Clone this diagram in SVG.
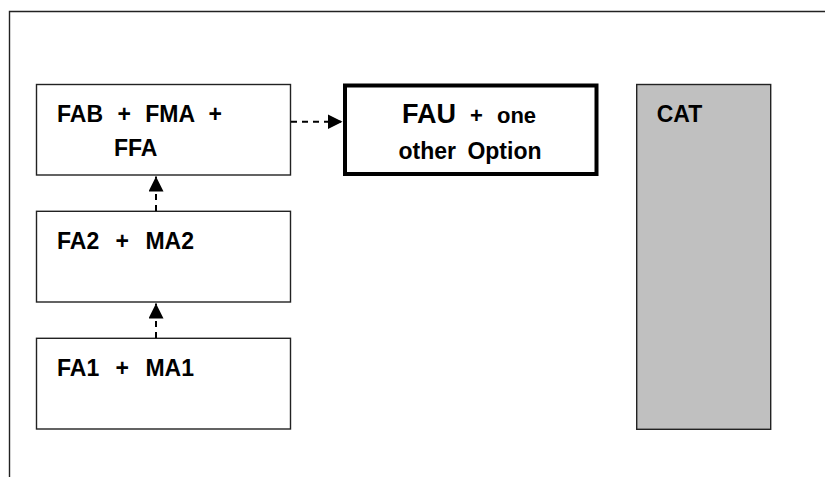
<svg xmlns="http://www.w3.org/2000/svg" width="825" height="477" viewBox="0 0 825 477">
  <defs>
    <style>
      .box { fill: #ffffff; stroke: #222222; stroke-width: 1.4; }
      .thick { fill: #ffffff; stroke: #000000; stroke-width: 4; }
      .gray { fill: #c0c0c0; stroke: #222222; stroke-width: 1.4; }
      .lbl { font-family: "Liberation Sans", Arial, sans-serif; font-weight: bold; font-size: 23px; fill: #000000; word-spacing: 8px; }
      .conn { stroke: #000000; stroke-width: 2; stroke-dasharray: 6 5; fill: none; }
    </style>
    <marker id="arrow" viewBox="0 0 15 15" refX="15" refY="7.5" markerWidth="15" markerHeight="15" markerUnits="userSpaceOnUse" orient="auto">
      <path d="M0,0 L15,7.5 L0,15 Z" fill="#000000"/>
    </marker>
  </defs>

  <g id="frame">
    <path d="M9.5,477 L9.5,11.5 L825,11.5" fill="none" stroke="#222222" stroke-width="1.4"/>
  </g>

  <g id="node-fab">
    <rect class="box" x="36.5" y="84.5" width="254" height="90.5"/>
    <text class="lbl" x="57" y="121.7">FAB + FMA +</text>
    <text class="lbl" x="114" y="156">FFA</text>
  </g>

  <g id="node-fa2">
    <rect class="box" x="36.5" y="211.3" width="254" height="90.7"/>
    <text class="lbl" x="57" y="249" style="word-spacing:10px">FA2 + MA2</text>
  </g>

  <g id="node-fa1">
    <rect class="box" x="36.5" y="338.3" width="254" height="90.7"/>
    <text class="lbl" x="57" y="375.7" style="word-spacing:10px">FA1 + MA1</text>
  </g>

  <g id="node-fau">
    <rect class="thick" x="345" y="85.5" width="251.5" height="88.5"/>
    <text class="lbl" x="469" y="122.5" text-anchor="middle" style="word-spacing:8px"><tspan style="font-size:27px">FAU</tspan><tspan style="font-size:22px"> + one</tspan></text>
    <text class="lbl" x="470" y="159" text-anchor="middle" style="word-spacing:5px">other Option</text>
  </g>

  <g id="node-cat">
    <rect class="gray" x="636.7" y="84.5" width="134" height="344.8"/>
    <text class="lbl" x="656.7" y="121.7">CAT</text>
  </g>

  <g id="connectors">
    <line class="conn" x1="291" y1="121.7" x2="342.5" y2="121.7" marker-end="url(#arrow)"/>
    <line class="conn" x1="156" y1="211" x2="156" y2="176.5" marker-end="url(#arrow)"/>
    <line class="conn" x1="156" y1="338" x2="156" y2="303.5" marker-end="url(#arrow)"/>
  </g>
</svg>
